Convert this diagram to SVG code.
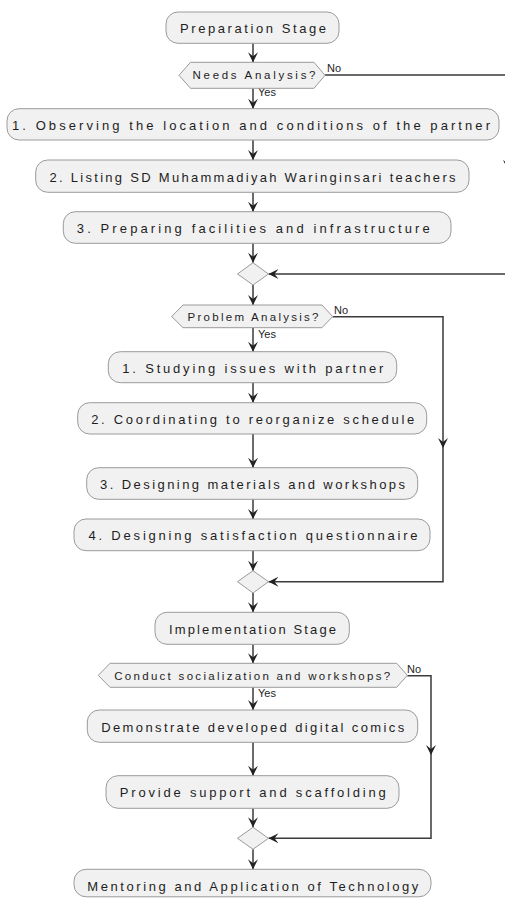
<svg xmlns="http://www.w3.org/2000/svg" width="505" height="898" viewBox="0 0 505 898">
<defs>
<style>
.box{fill:#F1F1F1;stroke:#9A9A9A;stroke-width:1}
.dec{fill:#F1F1F1;stroke:#9A9A9A;stroke-width:1}
.t{font-family:"Liberation Sans",Arial,sans-serif;font-size:13px;fill:#1e1e1e;text-anchor:middle}
.td{font-family:"Liberation Sans",Arial,sans-serif;font-size:11.5px;fill:#1e1e1e;text-anchor:middle}
.lbl{font-family:"Liberation Sans",Arial,sans-serif;font-size:11px;fill:#1e1e1e}
.c{fill:none;stroke:#3a3a3a;stroke-width:1.5}
</style>
<marker id="ah" viewBox="0 0 10 10" refX="10" refY="5" markerWidth="10" markerHeight="10" markerUnits="userSpaceOnUse" orient="auto">
<path d="M0,0 L10,5 L0,10 L4,5 z" fill="#222"/>
</marker>
</defs>
<rect width="505" height="898" fill="#FFFFFF"/>

<g id="connectors">
<path class="c" d="M253,43.3 V62.3" marker-end="url(#ah)"/>
<path class="c" d="M253,88.3 V108.7" marker-end="url(#ah)"/>
<path class="c" d="M253,140 V160" marker-end="url(#ah)"/>
<path class="c" d="M253,192.3 V211.7" marker-end="url(#ah)"/>
<path class="c" d="M253,243.3 V262.7" marker-end="url(#ah)"/>
<path class="c" d="M253,285 V305" marker-end="url(#ah)"/>
<path class="c" d="M253,327.7 V351.7" marker-end="url(#ah)"/>
<path class="c" d="M253,382.7 V402.7" marker-end="url(#ah)"/>
<path class="c" d="M253,434 V467.7" marker-end="url(#ah)"/>
<path class="c" d="M253,499.3 V519" marker-end="url(#ah)"/>
<path class="c" d="M253,550.7 V570.7" marker-end="url(#ah)"/>
<path class="c" d="M253,593 V612.3" marker-end="url(#ah)"/>
<path class="c" d="M253,644.3 V663.3" marker-end="url(#ah)"/>
<path class="c" d="M253,687.3 V710" marker-end="url(#ah)"/>
<path class="c" d="M253,742.3 V775.7" marker-end="url(#ah)"/>
<path class="c" d="M253,808.3 V827.3" marker-end="url(#ah)"/>
<path class="c" d="M253,849.3 V869.3" marker-end="url(#ah)"/>
<!-- Needs Analysis No branch -->
<path class="c" d="M325,75 H508 V170" marker-end="url(#ah)"/>
<path class="c" d="M508,170 V274 H268.5" marker-end="url(#ah)"/>
<!-- Problem Analysis No branch -->
<path class="c" d="M332.7,316.7 H443 V448" marker-end="url(#ah)"/>
<path class="c" d="M443,448 V581.7 H268.5" marker-end="url(#ah)"/>
<!-- Conduct No branch -->
<path class="c" d="M407.3,675.7 H431 V755" marker-end="url(#ah)"/>
<path class="c" d="M431,755 V838.3 H268.5" marker-end="url(#ah)"/>
<text class="lbl" x="327" y="71.7">No</text>
<text class="lbl" x="258" y="95.7">Yes</text>
<text class="lbl" x="334" y="314.3">No</text>
<text class="lbl" x="258" y="338.3">Yes</text>
<text class="lbl" x="407" y="673.3">No</text>
<text class="lbl" x="258" y="697.3">Yes</text>
</g>

<g id="prep">
<rect class="box" x="166" y="12" width="173" height="31.3" rx="12"/>
<text class="t" x="253" y="32.5" textLength="146" lengthAdjust="spacing">Preparation Stage</text>
</g>
<g id="needs">
<polygon class="dec" points="179,75.3 190.5,62.3 314,62.3 325,75.3 314,88.3 190.5,88.3"/>
<text class="td" x="254" y="79.3" textLength="123" lengthAdjust="spacing">Needs Analysis?</text>
</g>
<g id="observe">
<rect class="box" x="7" y="108.7" width="492" height="31.3" rx="12"/>
<text class="t" x="251" y="130.2" textLength="478" lengthAdjust="spacing">1. Observing the location and conditions of the partner</text>
</g>
<g id="listing">
<rect class="box" x="35.7" y="160" width="433.3" height="32.3" rx="12"/>
<text class="t" x="252.5" y="181.9" textLength="406" lengthAdjust="spacing">2. Listing SD Muhammadiyah Waringinsari teachers</text>
</g>
<g id="facilities">
<rect class="box" x="63.3" y="211.7" width="387.7" height="31.6" rx="12"/>
<text class="t" x="253.3" y="232.5" textLength="353" lengthAdjust="spacing">3. Preparing facilities and infrastructure</text>
</g>
<g id="merge1">
<polygon class="dec" points="253,262.7 268.5,274 253,285 237.5,274"/>
</g>
<g id="problem">
<polygon class="dec" points="171.7,316.5 183,305 322,305 332.7,316.5 322,327.7 183,327.7"/>
<text class="td" x="253" y="321.2" textLength="131" lengthAdjust="spacing">Problem Analysis?</text>
</g>
<g id="studying">
<rect class="box" x="108.3" y="351.7" width="288.4" height="31" rx="12"/>
<text class="t" x="252.8" y="372.8" textLength="261" lengthAdjust="spacing">1. Studying issues with partner</text>
</g>
<g id="coordinating">
<rect class="box" x="77.7" y="402.7" width="349" height="31.3" rx="12"/>
<text class="t" x="252.7" y="424.2" textLength="323" lengthAdjust="spacing">2. Coordinating to reorganize schedule</text>
</g>
<g id="materials">
<rect class="box" x="86.7" y="467.7" width="331" height="31.6" rx="12"/>
<text class="t" x="252.5" y="489.2" textLength="305" lengthAdjust="spacing">3. Designing materials and workshops</text>
</g>
<g id="questionnaire">
<rect class="box" x="74" y="519" width="356" height="31.7" rx="12"/>
<text class="t" x="253" y="540.2" textLength="329" lengthAdjust="spacing">4. Designing satisfaction questionnaire</text>
</g>
<g id="merge2">
<polygon class="dec" points="253,570.7 268.5,581.7 253,593 237.5,581.7"/>
</g>
<g id="implementation">
<rect class="box" x="155" y="612.3" width="194.3" height="32" rx="12"/>
<text class="t" x="252.5" y="634.2" textLength="167" lengthAdjust="spacing">Implementation Stage</text>
</g>
<g id="conduct">
<polygon class="dec" points="98.3,675.3 110,663.3 396.7,663.3 407.3,675.3 396.7,687.3 110,687.3"/>
<text class="td" x="252.2" y="680.2" textLength="276" lengthAdjust="spacing">Conduct socialization and workshops?</text>
</g>
<g id="demonstrate">
<rect class="box" x="87.3" y="710" width="330.4" height="32.3" rx="12"/>
<text class="t" x="252.7" y="731.9" textLength="303" lengthAdjust="spacing">Demonstrate developed digital comics</text>
</g>
<g id="support">
<rect class="box" x="106" y="775.7" width="293" height="32.6" rx="12"/>
<text class="t" x="252.8" y="796.9" textLength="266" lengthAdjust="spacing">Provide support and scaffolding</text>
</g>
<g id="merge3">
<polygon class="dec" points="253,827.3 268.5,838.3 253,849.3 237.5,838.3"/>
</g>
<g id="mentoring">
<rect class="box" x="74" y="869.3" width="357" height="27.5" rx="12"/>
<text class="t" x="252.8" y="891.2" textLength="331" lengthAdjust="spacing">Mentoring and Application of Technology</text>
</g>
</svg>
